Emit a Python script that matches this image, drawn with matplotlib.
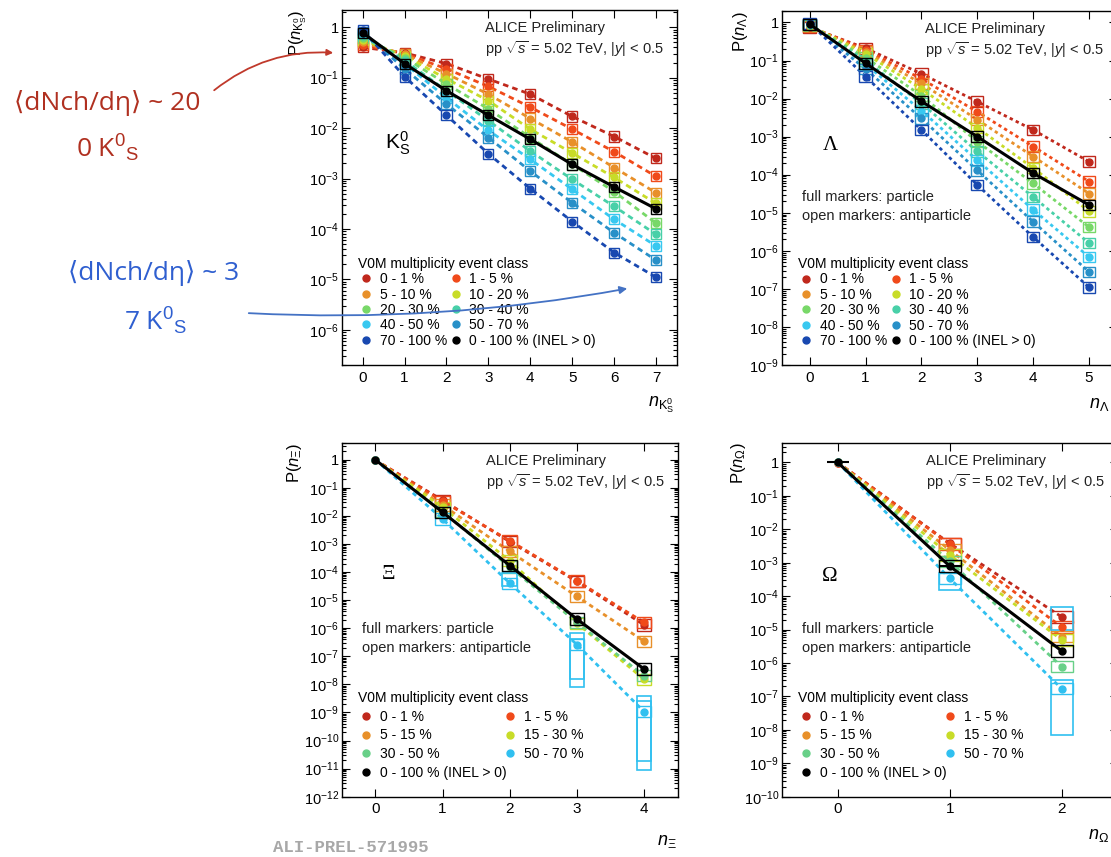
import numpy as np
import matplotlib
matplotlib.use('Agg')
import matplotlib.pyplot as plt
from matplotlib.patches import Rectangle, FancyArrowPatch
from matplotlib.ticker import LogLocator, NullLocator, NullFormatter, FuncFormatter

plt.rcParams['font.family'] = ['Liberation Sans', 'DejaVu Sans']
plt.rcParams['mathtext.fontset'] = 'custom'
plt.rcParams['mathtext.rm'] = 'Liberation Sans'
plt.rcParams['mathtext.it'] = 'Liberation Sans:italic'
plt.rcParams['mathtext.bf'] = 'Liberation Sans:bold'

W, H = 1111, 857

# ---- K0S : P(n) par classe de multiplicite V0M
n_k0s = [0, 1, 2, 3, 4, 5, 6, 7]
k0s_labels = ['0 - 1 %', '1 - 5 %', '5 - 10 %', '10 - 20 %', '20 - 30 %',
              '30 - 40 %', '40 - 50 %', '50 - 70 %', '70 - 100 %']
k0s_0_1 = [0.40, 0.31, 0.19, 0.094, 0.047, 0.017, 0.0068, 0.0025]
k0s_1_5 = [0.45, 0.30, 0.15, 0.067, 0.026, 0.0095, 0.0034, 0.0011]
k0s_5_10 = [0.50, 0.29, 0.12, 0.047, 0.0155, 0.0053, 0.00165, 0.00052]
k0s_10_20 = [0.56, 0.27, 0.095, 0.035, 0.0095, 0.0032, 0.00105, 0.00032]
k0s_20_30 = [0.62, 0.25, 0.075, 0.024, 0.0065, 0.0019, 0.00055, 0.00013]
k0s_30_40 = [0.68, 0.22, 0.055, 0.014, 0.0035, 0.00096, 0.00028, 7.8e-5]
k0s_40_50 = [0.74, 0.19, 0.040, 0.009, 0.0024, 0.00061, 0.000155, 4.6e-5]
k0s_50_70 = [0.80, 0.15, 0.030, 0.0065, 0.0014, 0.00033, 8.4e-5, 2.4e-5]
k0s_70_100 = [0.88, 0.105, 0.018, 0.0031, 0.00063, 0.00014, 3.4e-5, 1.1e-5]
k0s_inel = [0.78, 0.19, 0.055, 0.018, 0.006, 0.0019, 0.00068, 0.00025]

# ---- Lambda
n_lam = [0, 1, 2, 3, 4, 5]
lam_0_1 = [0.75, 0.21, 0.045, 0.0083, 0.0015, 0.00022]
lam_1_5 = [0.78, 0.19, 0.033, 0.0045, 0.00055, 6.6e-5]
lam_5_10 = [0.80, 0.17, 0.025, 0.0028, 0.00030, 3.2e-5]
lam_10_20 = [0.83, 0.15, 0.018, 0.0017, 0.00015, 1.1e-5]
lam_20_30 = [0.86, 0.12, 0.012, 0.00074, 5.9e-5, 4.2e-6]
lam_30_40 = [0.88, 0.10, 0.0075, 0.00041, 2.6e-5, 1.6e-6]
lam_40_50 = [0.90, 0.08, 0.0048, 0.00024, 1.2e-5, 6.9e-7]
lam_50_70 = [0.92, 0.06, 0.0030, 0.00013, 5.8e-6, 2.8e-7]
lam_70_100 = [0.95, 0.038, 0.0015, 5.4e-5, 2.3e-6, 1.1e-7]
lam_inel = [0.90, 0.085, 0.0085, 0.0010, 0.00011, 1.6e-5]

# ---- Xi
n_xi = [0, 1, 2, 3, 4]
mult_labels = ['0 - 1 %', '1 - 5 %', '5 - 15 %', '15 - 30 %', '30 - 50 %', '50 - 70 %']
xi_0_1 = [0.96, 0.036, 0.0012, 4.6e-5, 1.3e-6]
xi_1_5 = [0.965, 0.033, 0.0013, 4.8e-5, 1.6e-6]
xi_5_15 = [0.975, 0.024, 0.00054, 1.35e-5, 3.4e-7]
xi_15_30 = [0.98, 0.020, 0.00025, 1.5e-6, 1.5e-8]
xi_30_50 = [0.985, 0.014, 0.00015, 1.6e-6, 2.0e-8]
xi_50_70 = [0.99, 0.0077, 4.0e-5, 2.6e-7, 1.07e-9]
xi_inel = [0.986, 0.0135, 0.00017, 2.1e-6, 3.5e-8]
# boites systematiques larges (n, bas, haut)
xi_sys_n = [2, 3, 3, 4, 4]
xi_sys_lo = [3.1e-5, 8.3e-9, 1.5e-8, 9.0e-12, 1.8e-11]
xi_sys_hi = [9.1e-5, 6.6e-7, 4.0e-7, 3.7e-9, 2.5e-9]

# ---- Omega
n_om = [0, 1, 2]
om_0_1 = [0.996, 0.0038, 2.4e-5]
om_1_5 = [0.996, 0.0036, 1.2e-5]
om_5_15 = [0.997, 0.0024, 6.1e-6]
om_15_30 = [0.998, 0.0017, 4.9e-6]
om_30_50 = [0.998, 0.0011, 7.8e-7]
om_50_70 = [0.999, 0.00034, 1.7e-7]
om_inel = [0.999, 0.00079, 2.3e-6]
om_sys_n = [1, 2, 2]
om_sys_lo = [1.5e-4, 6.9e-9, 9.7e-6]
om_sys_hi = [4.8e-4, 3.1e-7, 4.8e-5]

col9 = ['#c0281c', '#f04a1a', '#e8902a', '#c8dc28', '#78d868',
        '#48d0a8', '#38c8f0', '#2890c8', '#1848b0']
col6 = ['#c0281c', '#f04a1a', '#e8902a', '#c8dc28', '#68d088', '#30c0f0']


def px_rect(x0, y0, x1, y1):
    return [x0 / W, 1 - y1 / H, (x1 - x0) / W, (y1 - y0) / H]


def log_fmt(v, pos):
    e = int(round(np.log10(v)))
    return '1' if e == 0 else r'$10^{%d}$' % e


def panel(ax, n, series, inel, labels, colours, xlim, ylim, bw, bh, dash, lsp, leg_y, colsp,
          sys=None, inel_xerr=None, box0=True):
    first = 0 if box0 else 1
    handles = []
    for vals, c, lab in zip(series, colours, labels):
        ax.plot(n, vals, ls=(0, dash), color=c, lw=2.0, zorder=2)
        for xi, v in list(zip(n, vals))[first:]:
            ax.add_patch(Rectangle((xi - bw, v / 10**bh), 2 * bw, v * 10**bh - v / 10**bh,
                                   fill=False, ec=c, lw=1.0, zorder=3))
        h, = ax.plot(n, vals, 'o', color=c, ms=5, zorder=4, label=lab)
        handles.append(h)
    if sys is not None:
        for xi, lo, hi in zip(*sys):
            ax.add_patch(Rectangle((xi - bw, lo), 2 * bw, hi - lo, fill=False,
                                   ec=colours[-1], lw=1.2, zorder=3))
    ax.plot(n, inel, '-', color='black', lw=2.2, zorder=5)
    for xi, v in list(zip(n, inel))[first:]:
        ax.add_patch(Rectangle((xi - bw, v / 10**bh), 2 * bw, v * 10**bh - v / 10**bh,
                               fill=False, ec='black', lw=1.0, zorder=5))
    if inel_xerr is not None:
        ax.errorbar(n, inel, xerr=inel_xerr, fmt='none', ecolor='black', lw=1.5, zorder=6)
    h, = ax.plot(n, inel, 'o', color='black', ms=5, zorder=6, label='0 - 100 % (INEL > 0)')
    handles.append(h)

    ax.set_yscale('log')
    ax.set_xlim(*xlim)
    ax.set_ylim(*ylim)
    ax.set_xticks(n)
    ax.xaxis.set_minor_locator(NullLocator())
    ax.yaxis.set_major_locator(LogLocator(base=10, numticks=30))
    ax.yaxis.set_minor_locator(LogLocator(base=10, subs=np.arange(2, 10), numticks=30))
    ax.yaxis.set_major_formatter(FuncFormatter(log_fmt))
    ax.yaxis.set_minor_formatter(NullFormatter())
    ax.tick_params(which='both', direction='in', top=True, right=True, width=0.8)
    ax.tick_params(which='major', length=6)
    ax.tick_params(which='minor', length=3)
    ax.tick_params(axis='y', labelsize=10.5, pad=2)
    ax.tick_params(axis='x', labelsize=11, pad=4)
    for s in ax.spines.values():
        s.set_linewidth(1.0)

    # ordre ligne par ligne comme dans la legende ROOT
    order = list(range(0, len(handles), 2)) + list(range(1, len(handles), 2))
    hs = [handles[i] for i in order]
    ax.legend(handles=hs, labels=[h.get_label() for h in hs], ncol=2, frameon=False,
              loc='upper left', bbox_to_anchor=(0.048, leg_y), fontsize=10,
              title='V0M multiplicity event class', title_fontsize=10, alignment='left',
              handlelength=1.2, handletextpad=0.4, columnspacing=colsp,
              labelspacing=lsp, borderpad=0, borderaxespad=0)

    ax.text(0.428, 0.949, 'ALICE Preliminary', transform=ax.transAxes, fontsize=10.5,
            ha='left', va='center', color='#222222')
    ax.text(0.428, 0.89, r'pp $\sqrt{s}$ = 5.02 TeV, $|y|$ < 0.5', transform=ax.transAxes,
            fontsize=10.5, ha='left', va='center', color='#222222')


fig = plt.figure(figsize=(11.11, 8.57), dpi=100)

ax1 = fig.add_axes(px_rect(341.7, 10, 677, 365))
panel(ax1, n_k0s,
      [k0s_0_1, k0s_1_5, k0s_5_10, k0s_10_20, k0s_20_30, k0s_30_40, k0s_40_50, k0s_50_70, k0s_70_100],
      k0s_inel, k0s_labels, col9, (-0.5, 7.5), (2e-7, 2.2), 0.12, 0.1, (2, 1.5), 0.1, 0.305, 0.0)
ax1.text(0.13, 0.625, r'$\mathrm{K^{0}_{S}}$', transform=ax1.transAxes, fontsize=15,
         ha='left', va='center')
ax1.text(-0.13, 1.0, r'P($n_{\mathrm{K^{0}_{S}}}$)', transform=ax1.transAxes, rotation=90,
         fontsize=12, ha='center', va='top')
ax1.text(0.99, -0.113, r'$n_{\mathrm{K^{0}_{S}}}$', transform=ax1.transAxes, fontsize=13,
         ha='right', va='center')

ax2 = fig.add_axes(px_rect(781.7, 11, 1117, 365))
panel(ax2, n_lam,
      [lam_0_1, lam_1_5, lam_5_10, lam_10_20, lam_20_30, lam_30_40, lam_40_50, lam_50_70, lam_70_100],
      lam_inel, k0s_labels, col9, (-0.5, 5.5), (1e-9, 2.0), 0.11, 0.14, (1.2, 1.2), 0.1, 0.305, 0.0)
ax2.text(0.144, 0.62, 'Λ', transform=ax2.transAxes, fontsize=15, family='Liberation Serif',
         ha='center', va='center')
ax2.text(-0.124, 1.0, r'P($n_{\Lambda}$)', transform=ax2.transAxes, rotation=90,
         fontsize=12, ha='center', va='top')
fig.text(1109 / W, 1 - 405 / H, r'$n_{\Lambda}$', fontsize=13, ha='right', va='center')

ax3 = fig.add_axes(px_rect(341.7, 442.7, 677.7, 796.7))
panel(ax3, n_xi, [xi_0_1, xi_1_5, xi_5_15, xi_15_30, xi_30_50, xi_50_70],
      xi_inel, mult_labels, col6, (-0.5, 4.5), (1e-12, 4.0), 0.11, 0.2, (1.6, 1.4), 0.33, 0.298,
      -0.35, sys=(xi_sys_n, xi_sys_lo, xi_sys_hi), box0=False)
ax3.text(0.139, 0.629, 'Ξ', transform=ax3.transAxes, fontsize=15, family='Liberation Serif',
         ha='center', va='center')
ax3.text(-0.139, 1.0, r'P($n_{\Xi}$)', transform=ax3.transAxes, rotation=90,
         fontsize=12, ha='center', va='top')
ax3.text(0.997, -0.127, r'$n_{\Xi}$', transform=ax3.transAxes, fontsize=13,
         ha='right', va='center')

ax4 = fig.add_axes(px_rect(781.7, 442.7, 1117.7, 796.7))
panel(ax4, n_om, [om_0_1, om_1_5, om_5_15, om_15_30, om_30_50, om_50_70],
      om_inel, mult_labels, col6, (-0.5, 2.5), (1e-10, 3.9), 0.1, 0.17, (1.6, 1.4), 0.33, 0.298,
      -0.35, sys=(om_sys_n, om_sys_lo, om_sys_hi), inel_xerr=[0.1, 0.1, 0.0], box0=False)
ax4.text(0.144, 0.621, 'Ω', transform=ax4.transAxes, fontsize=15, family='Liberation Serif',
         ha='center', va='center')
ax4.text(-0.129, 1.0, r'P($n_{\Omega}$)', transform=ax4.transAxes, rotation=90,
         fontsize=12, ha='center', va='top')
fig.text(1109 / W, 1 - 836 / H, r'$n_{\Omega}$', fontsize=13, ha='right', va='center')

for ax in (ax2, ax3, ax4):
    ax.text(0.06, 0.474, 'full markers: particle', transform=ax.transAxes, fontsize=10.5,
            ha='left', va='center', color='#222222')
    ax.text(0.06, 0.42, 'open markers: antiparticle', transform=ax.transAxes, fontsize=10.5,
            ha='left', va='center', color='#222222')

# annotations a gauche
red = '#b03020'
blue = '#2f5fd0'
fam = ['Open Sans', 'DejaVu Sans']
fig.text(107 / W, 1 - 103 / H, '⟨dNch/dη⟩ ~ 20', ha='center', va='center',
         fontsize=19, color=red, family=fam)
fig.text(107 / W, 1 - 148 / H, r'0 K$^{0}$$_{\mathrm{S}}$', ha='center', va='center',
         fontsize=19, color=red, family=fam)
fig.text(154 / W, 1 - 273 / H, '⟨dNch/dη⟩ ~ 3', ha='center', va='center',
         fontsize=19, color=blue, family=fam)
fig.text(155 / W, 1 - 321 / H, r'7 K$^{0}$$_{\mathrm{S}}$', ha='center', va='center',
         fontsize=19, color=blue, family=fam)

fig.add_artist(FancyArrowPatch((212 / W, 1 - 92 / H), (336 / W, 1 - 53 / H),
                               transform=fig.transFigure, connectionstyle='arc3,rad=-0.2',
                               arrowstyle='-|>', mutation_scale=9, color='#c0392b', lw=1.3))
fig.add_artist(FancyArrowPatch((246 / W, 1 - 313 / H), (630 / W, 1 - 288 / H),
                               transform=fig.transFigure, connectionstyle='arc3,rad=0.06',
                               arrowstyle='-|>', mutation_scale=11, color='#4472c4', lw=1.3))

fig.text(273 / W, 1 - 848 / H, 'ALI-PREL-571995', ha='left', va='center', fontsize=12.5,
         family='Liberation Mono', weight='bold', color='#a8a8a8')

fig.savefig('out.png', dpi=100)
